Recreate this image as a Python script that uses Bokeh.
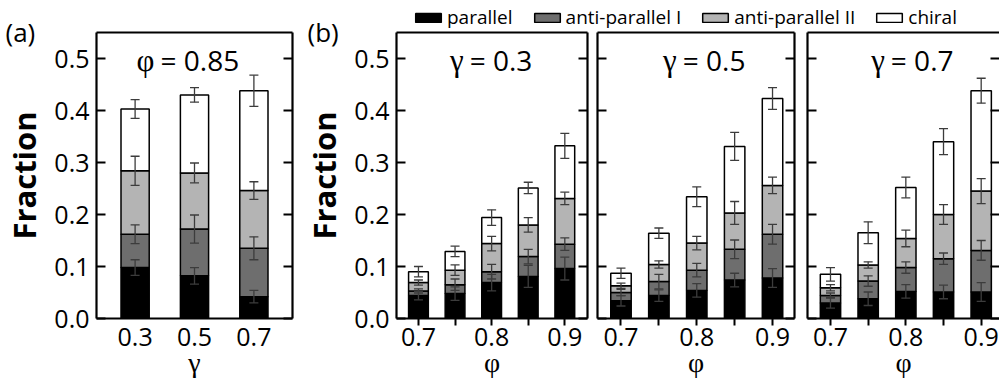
import numpy as np
from bokeh.plotting import figure
from bokeh.models import (ColumnDataSource, Range1d, LinearAxis, FixedTicker,
                          PrintfTickFormatter, Whisker, TeeHead, Label, Legend,
                          LegendItem, GridBox)
from bokeh.embed import file_html
from bokeh.resources import INLINE

# ---------------- data ----------------
SERIES = ["parallel", "anti-parallel I", "anti-parallel II", "chiral"]
COLORS = ["#000000", "#6e6e6e", "#b4b4b4", "#ffffff"]
Y_TICKS = [0.0, 0.1, 0.2, 0.3, 0.4, 0.5]
PANEL_TAGS = ["(a)", "(b)"]

# panel (a): phi = 0.85, fractions vs gamma
gamma_a = [0.3, 0.5, 0.7]
a_parallel = [0.098, 0.082, 0.042]
a_anti1 = [0.064, 0.090, 0.093]
a_anti2 = [0.122, 0.108, 0.111]
a_chiral = [0.119, 0.150, 0.192]
a_parallel_err = [0.015, 0.016, 0.012]
a_anti1_err = [0.018, 0.027, 0.022]
a_anti2_err = [0.028, 0.019, 0.017]
a_chiral_err = [0.018, 0.014, 0.030]

# panel (b): fractions vs phi for gamma = 0.3, 0.5, 0.7
phi_b = [0.70, 0.75, 0.80, 0.85, 0.90]

g03_parallel = [0.044, 0.048, 0.069, 0.081, 0.096]
g03_anti1 = [0.009, 0.017, 0.021, 0.038, 0.047]
g03_anti2 = [0.016, 0.028, 0.054, 0.061, 0.088]
g03_chiral = [0.021, 0.036, 0.050, 0.071, 0.101]
g03_parallel_err = [0.008, 0.013, 0.016, 0.021, 0.022]
g03_anti1_err = [0.004, 0.011, 0.014, 0.014, 0.012]
g03_anti2_err = [0.005, 0.010, 0.014, 0.014, 0.012]
g03_chiral_err = [0.010, 0.010, 0.015, 0.011, 0.024]

g05_parallel = [0.034, 0.044, 0.054, 0.074, 0.078]
g05_anti1 = [0.016, 0.027, 0.039, 0.059, 0.084]
g05_anti2 = [0.013, 0.033, 0.052, 0.070, 0.094]
g05_chiral = [0.024, 0.060, 0.089, 0.128, 0.167]
g05_parallel_err = [0.010, 0.011, 0.013, 0.013, 0.018]
g05_anti1_err = [0.006, 0.014, 0.013, 0.018, 0.019]
g05_anti2_err = [0.005, 0.007, 0.013, 0.022, 0.016]
g05_chiral_err = [0.010, 0.010, 0.019, 0.027, 0.021]

g07_parallel = [0.030, 0.038, 0.052, 0.051, 0.051]
g07_anti1 = [0.014, 0.034, 0.046, 0.064, 0.080]
g07_anti2 = [0.015, 0.031, 0.056, 0.085, 0.114]
g07_chiral = [0.026, 0.062, 0.098, 0.140, 0.193]
g07_parallel_err = [0.010, 0.013, 0.013, 0.013, 0.018]
g07_anti1_err = [0.005, 0.010, 0.011, 0.011, 0.019]
g07_anti2_err = [0.006, 0.006, 0.016, 0.019, 0.024]
g07_chiral_err = [0.013, 0.021, 0.020, 0.025, 0.024]

SANS = "Open Sans"
SERIF = "Liberation Serif"
FRAME_W = 2.2
ERR_COLOR = "#3c3c3c"
BLANK = PrintfTickFormatter(format="")


def panel(x, segs, errs, xr, width, bl, br, bar_w, xticks, xminor,
          show_ylabels, right_line, tick_out, lab_standoff,
          greek, title_rest, title_x, title_off):
    p = figure(width=width, height=388, x_range=Range1d(*xr), y_range=Range1d(0, 0.55),
               output_backend="svg", toolbar_location=None,
               x_axis_location=None, y_axis_location=None,
               min_border_left=bl, min_border_right=br, min_border_top=32,
               min_border_bottom=70, outline_line_color=None,
               background_fill_color=None, border_fill_color=None)
    p.grid.visible = False

    keys = ["s0", "s1", "s2", "s3"]
    data = {"x": x}
    for k, s in zip(keys, segs):
        data[k] = s
    src = ColumnDataSource(data)
    p.vbar_stack(keys, x="x", width=bar_w, source=src, fill_color=COLORS,
                 line_color="black", line_width=1.5)

    tops = np.cumsum(np.array(segs), axis=0)
    bx, up, lo = [], [], []
    for top, e in zip(tops, errs):
        bx += list(x)
        up += list(top + np.array(e))
        lo += list(top - np.array(e))
    wsrc = ColumnDataSource(dict(base=bx, upper=up, lower=lo))
    p.add_layout(Whisker(base="base", upper="upper", lower="lower", source=wsrc,
                         level="overlay", line_color=ERR_COLOR, line_width=1.3,
                         upper_head=TeeHead(size=9, line_color=ERR_COLOR, line_width=1.3),
                         lower_head=TeeHead(size=9, line_color=ERR_COLOR, line_width=1.3)))

    yt = FixedTicker(ticks=Y_TICKS, minor_ticks=[])
    left = LinearAxis(ticker=yt, formatter=PrintfTickFormatter(format="%.1f"),
                      axis_line_width=FRAME_W, major_tick_line_width=2,
                      major_tick_in=9, major_tick_out=0, minor_tick_in=0, minor_tick_out=0,
                      major_label_text_font=SANS, major_label_text_font_size="25px",
                      major_label_text_color="black", major_label_standoff=7)
    if show_ylabels:
        left.axis_label = "Fraction"
        left.axis_label_text_font = SANS
        left.axis_label_text_font_size = "31px"
        left.axis_label_text_font_style = "bold"
        left.axis_label_text_color = "black"
        left.axis_label_standoff = 6
    else:
        left.formatter = BLANK
        left.major_label_standoff = 0
    p.add_layout(left, "left")

    right = LinearAxis(ticker=FixedTicker(ticks=Y_TICKS, minor_ticks=[]), formatter=BLANK,
                       axis_line_width=FRAME_W, major_tick_line_width=2,
                       major_tick_in=9, major_tick_out=0, minor_tick_in=0, minor_tick_out=0,
                       major_label_standoff=0)
    if not right_line:
        right.axis_line_color = None
    p.add_layout(right, "right")

    top = LinearAxis(ticker=FixedTicker(ticks=[], minor_ticks=[]), formatter=BLANK,
                     axis_line_width=FRAME_W, major_tick_in=0, major_tick_out=0,
                     minor_tick_in=0, minor_tick_out=0, major_label_standoff=0)
    p.add_layout(top, "above")

    bottom = LinearAxis(ticker=FixedTicker(ticks=xticks, minor_ticks=xminor),
                        formatter=PrintfTickFormatter(format="%.1f"),
                        axis_line_width=FRAME_W, major_tick_line_width=2, minor_tick_line_width=2,
                        major_tick_in=0, major_tick_out=tick_out,
                        minor_tick_in=0, minor_tick_out=tick_out,
                        major_label_text_font=SANS, major_label_text_font_size="25px",
                        major_label_text_color="black", major_label_standoff=lab_standoff,
                        axis_label=greek[0], axis_label_text_font=SERIF,
                        axis_label_text_font_size="28px", axis_label_text_font_style="normal",
                        axis_label_text_color="black", axis_label_standoff=-2)
    p.add_layout(bottom, "below")

    # panel title: greek symbol + "= value"
    p.add_layout(Label(x=title_x, y=0.497, x_offset=title_off - 4, text=greek[1],
                       text_font=SERIF, text_font_size="31px", text_align="right",
                       text_baseline="middle", text_color="black"))
    p.add_layout(Label(x=title_x, y=0.497, x_offset=title_off + 2, text=title_rest,
                       text_font=SANS, text_font_size="28px", text_align="left",
                       text_baseline="middle", text_color="black"))
    return p


figA = panel(gamma_a, [a_parallel, a_anti1, a_anti2, a_chiral],
             [a_parallel_err, a_anti1_err, a_anti2_err, a_chiral_err],
             (0.17, 0.83), 300, 95, 8, 0.095, [0.3, 0.5, 0.7], [],
             True, True, 0, 9, ("\u03b3", "\u03c6"), "= 0.85", 0.5, -36)

xt = [0.7, 0.8, 0.9]
xm = [0.75, 0.85]
figB1 = panel(phi_b, [g03_parallel, g03_anti1, g03_anti2, g03_chiral],
              [g03_parallel_err, g03_anti1_err, g03_anti2_err, g03_chiral_err],
              (0.67, 0.931), 292, 89, 5, 0.027, xt, xm,
              True, True, 7, 2, ("\u03c6", "\u03b3"), "= 0.3", 0.8, -24)
figB2 = panel(phi_b, [g05_parallel, g05_anti1, g05_anti2, g05_chiral],
              [g05_parallel_err, g05_anti1_err, g05_anti2_err, g05_chiral_err],
              (0.669, 0.929), 209, 5, 7, 0.027, xt, xm,
              False, True, 7, 2, ("\u03c6", "\u03b3"), "= 0.5", 0.8, -16)
figB3 = panel(phi_b, [g07_parallel, g07_anti1, g07_anti2, g07_chiral],
              [g07_parallel_err, g07_anti1_err, g07_anti2_err, g07_chiral_err],
              (0.6695, 0.9243), 198, 6, 0, 0.027, xt, xm,
              False, False, 7, 2, ("\u03c6", "\u03b3"), "= 0.7", 0.8, -17)

# transparent full-page overlay: shared legend of panel (b) and the panel tags
# (its ranges are set in page pixels, y measured downward from the top)
ov = figure(width=999, height=388, x_range=Range1d(0, 999), y_range=Range1d(388, 0),
            output_backend="svg", toolbar_location=None,
            x_axis_location=None, y_axis_location=None, min_border=0,
            outline_line_color=None, background_fill_color=None, border_fill_color=None)
ov.frame_align = False
ov.grid.visible = False
# legend-only renderers (NaN data: nothing is drawn in the plot area)
rends = [ov.vbar(x=[np.nan], top=[np.nan], width=1, fill_color=c,
                 line_color="black", line_width=1.5) for c in COLORS]
legend = Legend(items=[LegendItem(label=s, renderers=[r]) for s, r in zip(SERIES, rends)],
                orientation="horizontal", location=(412, 358),
                label_text_font=SANS, label_text_font_size="19px", label_text_color="black",
                glyph_width=32, glyph_height=11, label_standoff=3, spacing=18,
                padding=0, margin=0, border_line_color=None, background_fill_alpha=0)
ov.add_layout(legend)
for tx, tag in zip([5, 307], PANEL_TAGS):
    ov.add_layout(Label(x=tx, y=31, text=tag, text_font=SANS, text_font_size="26px",
                        text_align="left", text_baseline="middle", text_color="black"))

layout = GridBox(children=[(ov, 0, 0, 1, 4), (figA, 0, 0), (figB1, 0, 1), (figB2, 0, 2),
                           (figB3, 0, 3)], spacing=0)

open("out.html", "w").write(file_html(layout, INLINE))
